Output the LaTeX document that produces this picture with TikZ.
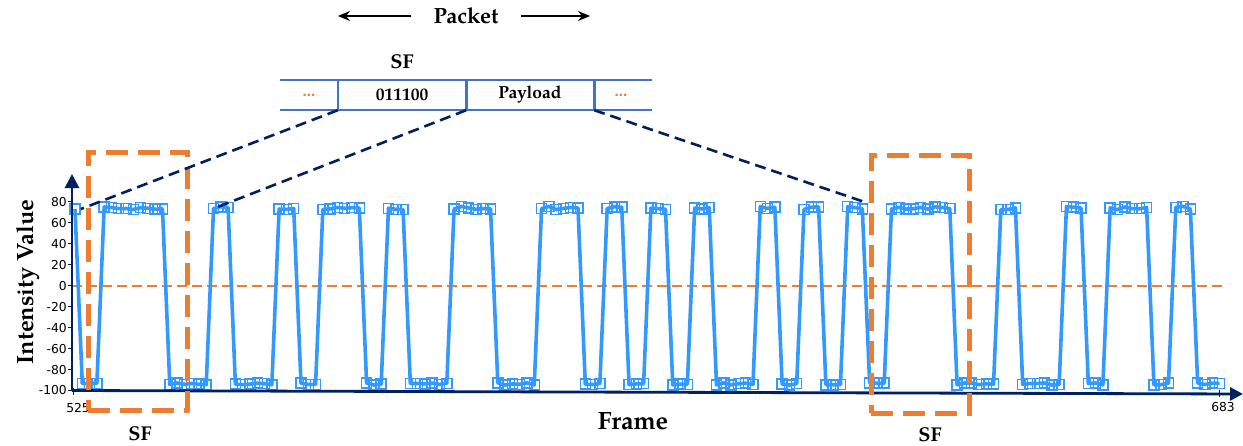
\documentclass[tikz,border=0pt]{standalone}
\usepackage{fontspec}
\setmainfont{TeX Gyre Pagella}
\newfontfamily\ticksf{DejaVu Sans}
\usetikzlibrary{arrows.meta}
\definecolor{sigblue}{RGB}{51,153,255}
\definecolor{orng}{RGB}{237,125,49}
\definecolor{navy}{RGB}{0,32,96}
\definecolor{barblue}{RGB}{68,114,196}
\newcount\fidx
\begin{document}
\begin{tikzpicture}[x=1pt,y=-1pt,
  lbl/.style={font=\bfseries\fontsize{20}{24}\selectfont, inner sep=0pt},
  seglbl/.style={font=\bfseries\fontsize{17.5}{20}\selectfont, inner sep=0pt, minimum width=128pt, minimum height=30pt},
  dotlbl/.style={font=\bfseries\fontsize{17}{20}\selectfont, text=orng, inner sep=0pt},
  ticklbl/.style={font=\ticksf\fontsize{12.3}{14}\selectfont, inner sep=0pt},
  axisline/.style={draw=navy, line width=2.8pt},
  tickline/.style={draw=navy, line width=1pt},
  sig/.style={draw=sigblue, line width=3.6pt, line join=round},
  mk/.style={draw=sigblue, line width=1.5pt, rectangle, minimum size=10pt, inner sep=0pt, fill=none},
  zeroline/.style={draw=orng, line width=2pt, dash pattern=on 10pt off 5pt},
  sfbox/.style={draw=orng, line width=5pt, dash pattern=on 22pt off 10pt, rectangle, inner sep=0pt},
  conn/.style={draw=navy, line width=2.6pt, dash pattern=on 11pt off 6pt},
  bar/.style={draw=barblue, line width=2.6pt},
  parr/.style={draw=black, line width=1.5pt, -{Stealth[length=12pt,width=10pt]}}
]
\useasboundingbox (0,0) rectangle (1243,445);

% ---------- signal points ----------
\global\fidx=0
\pgfmathsetseed{11}
\foreach \len [count=\k] in {1,3,9,6,3,6,3,3,6,3,3,6,6,6,6,3,3,3,3,3,3,6,3,3,3,3,3,3,9,6,3,6,3,3,6,3,3,4}{
  \pgfmathtruncatemacro\lev{mod(\k,2)}
  \foreach \j in {1,...,\len}{
    \pgfmathtruncatemacro\ii{\the\fidx}
    \pgfmathsetmacro\xx{75+7.29*\ii}
    \pgfmathsetmacro\yy{ifthenelse(\lev==1,208+1.6*rand,384+1.2*rand)}
    \coordinate (p\ii) at (\xx,\yy);
    \global\advance\fidx by 1
  }
}

% ---------- axes ----------
\coordinate (O) at (72,390.5);
\coordinate (ytip) at (72,174);
\coordinate (xtip) at (1243,394);
\foreach \v in {80,60,...,-100}{
  \pgfmathsetmacro\yt{285.7-1.0478*\v}
  \draw[tickline] (68,\yt) -- (72,\yt);
  \node[ticklbl, anchor=east] (yl\v) at (67,\yt) {\v};
}
\draw[tickline] (73,388) -- (73,395);
\draw[tickline] (1219,390) -- (1219,397);
\node[ticklbl] (x525) at (78,408) {525};
\node[ticklbl] (x683) at (1223,407) {683};

% zero line
\coordinate (z0) at (72,285.7);
\coordinate (z1) at (1222,285.7);
\draw[zeroline] (z0) -- (z1);

% signal
\draw[sig] (p0) \foreach \i in {1,...,157}{ -- (p\i) };
\foreach \i in {0,...,157}{ \node[mk] (m\i) at (p\i) {}; }

\draw[axisline, -{Triangle[width=14pt,length=14pt]}] (O) -- (ytip);
\draw[axisline, -{Triangle[width=13pt,length=13pt]}] (O) -- (xtip);

% SF boxes
\node[sfbox, minimum width=99pt, minimum height=258pt] (box1) at (137.5,281) {};
\node[sfbox, minimum width=98pt, minimum height=258pt] (box2) at (920,284) {};
\node[lbl] (sf1) at (140,434) {SF};
\node[lbl] (sf2) at (930,435) {SF};

% packet bar
\coordinate (b0) at (280,80);
\coordinate (b1) at (652,80);
\coordinate (b2) at (280,110);
\coordinate (b3) at (652,110);
\draw[bar] (b0) -- (b1);
\draw[bar] (b2) -- (b3);
\node[seglbl] (sfseg) at (402,95) {011100};
\node[seglbl] (pay) at (530,95) {Payload};
\draw[bar] (sfseg.north west) -- (sfseg.south west);
\draw[bar] (sfseg.north east) -- (sfseg.south east);
\draw[bar] (pay.north east) -- (pay.south east);
\node[dotlbl] (d1) at (309,95) {...};
\node[dotlbl] (d2) at (621,95) {...};
\node[lbl] (sftop) at (402,62) {SF};

% packet label and arrows
\node[font=\bfseries\fontsize{22}{26}\selectfont, inner sep=0pt] (packet) at (466,16) {Packet};
\coordinate (pl) at (338,16);
\coordinate (pr) at (590,16);
\draw[parr] ([xshift=-22pt]packet.west) -- (pl);
\draw[parr] ([xshift=22pt]packet.east) -- (pr);

% connectors
\draw[conn] (sfseg.south west) -- (m0.east);
\draw[conn] (sfseg.south east) -- (m19.center);
\draw[conn] (pay.south east) -- (m108.north east);

% axis titles
\node[font=\bfseries\fontsize{23.5}{26}\selectfont, rotate=90, inner sep=0pt] (ytitle) at (28,282) {Intensity Value};
\node[font=\bfseries\fontsize{25}{28}\selectfont, inner sep=0pt] (xtitle) at (633,421) {Frame};
\end{tikzpicture}
\end{document}
